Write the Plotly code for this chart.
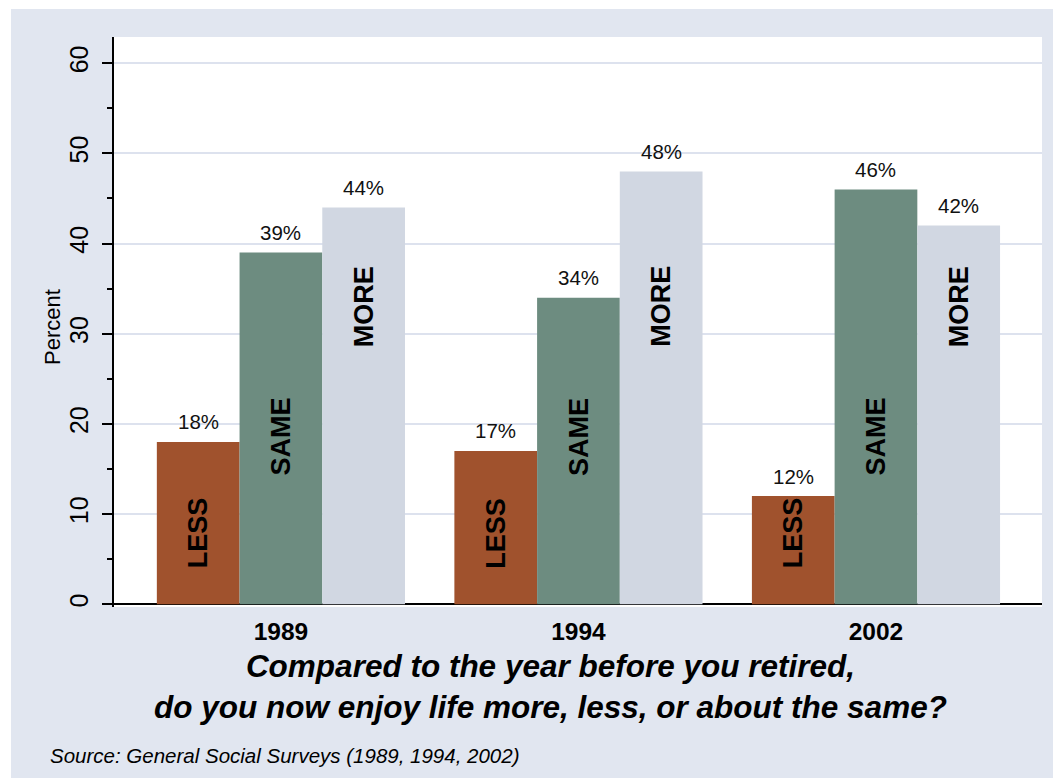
import plotly.graph_objects as go

# Survey data: share of retirees who enjoy life less / the same / more
years = ["1989", "1994", "2002"]
less_pct = [18, 17, 12]
same_pct = [39, 34, 46]
more_pct = [44, 48, 42]
answer_names = ["LESS", "SAME", "MORE"]
y_ticks = [0, 10, 20, 30, 40, 50, 60]

# Styling
FONT = "Liberation Sans, Arial, Helvetica, sans-serif"
BG = "#e1e6f0"
GRID = "#dde2ee"
COLORS = {"LESS": "#a0522d", "SAME": "#6d8c80", "MORE": "#d1d7e2"}
INSIDE_LABEL_Y = {"LESS": 7.9, "SAME": 18.6, "MORE": 33.0}  # where the bold names sit

W, H = 1053, 778
M_L, M_R, M_T, M_B = 114, 11, 37, 171
PLOT_W = W - M_L - M_R
PLOT_H = H - M_T - M_B

BARGAP = 0.166
n_series = len(answer_names)
bar_w = (1 - BARGAP) / n_series


def px_x(p):
    return (p - M_L) / PLOT_W


def px_y(p):
    return (H - M_B - p) / PLOT_H


series = {"LESS": less_pct, "SAME": same_pct, "MORE": more_pct}

fig = go.Figure()
for name in answer_names:
    fig.add_trace(go.Bar(
        x=years, y=series[name], name=name,
        marker=dict(color=COLORS[name], line=dict(width=0)),
        showlegend=False, hoverinfo="skip",
    ))

annotations = []
for si, name in enumerate(answer_names):
    offset = (si - (n_series - 1) / 2) * bar_w
    for gi, val in enumerate(series[name]):
        xpos = gi + offset
        # value label above each bar
        annotations.append(dict(
            x=xpos, y=val, xref="x", yref="y", text=f"{val}%",
            showarrow=False, yanchor="middle", yshift=20,
            font=dict(family=FONT, size=20.5, color="#111111"),
        ))
        # rotated answer name inside each bar
        annotations.append(dict(
            x=xpos, y=INSIDE_LABEL_Y[name], xref="x", yref="y",
            text=f"<b>{name}</b>", textangle=-90, showarrow=False,
            xanchor="center", yanchor="middle",
            font=dict(family=FONT, size=27, color="#000000"),
        ))

annotations += [
    dict(x=px_x(52), y=px_y(327), xref="paper", yref="paper", text="Percent",
         textangle=-90, showarrow=False, xanchor="center", yanchor="middle",
         font=dict(family=FONT, size=22, color="#000000")),
    dict(x=px_x(550), y=px_y(686), xref="paper", yref="paper",
         text="<b><i>Compared to the year before you retired,<br>"
              "do you now enjoy life more, less, or about the same?</i></b>",
         showarrow=False, xanchor="center", yanchor="middle", align="center",
         font=dict(family=FONT, size=31.5, color="#000000")),
    dict(x=px_x(48), y=px_y(755), xref="paper", yref="paper",
         text="<i>Source: General Social Surveys (1989, 1994, 2002)</i>",
         showarrow=False, xanchor="left", yanchor="middle",
         font=dict(family=FONT, size=20.5, color="#000000")),
]

shapes = [
    # thin white border at the top and left of the page
    dict(type="rect", xref="paper", yref="paper", layer="below",
         x0=px_x(0), x1=px_x(W), y0=px_y(9), y1=px_y(0),
         fillcolor="white", line=dict(width=0)),
    dict(type="rect", xref="paper", yref="paper", layer="below",
         x0=px_x(0), x1=px_x(11), y0=px_y(H), y1=px_y(0),
         fillcolor="white", line=dict(width=0)),
]

fig.update_layout(
    width=W, height=H,
    margin=dict(l=M_L, r=M_R, t=M_T, b=M_B, pad=0),
    paper_bgcolor=BG, plot_bgcolor="white",
    barmode="group", bargap=BARGAP, bargroupgap=0,
    font=dict(family=FONT, color="#000000"),
    annotations=annotations, shapes=shapes,
    xaxis=dict(
        type="category", range=[-0.561, 2.558],
        showgrid=False, showline=False, ticks="",
        tickfont=dict(family=FONT, size=24.5, weight="bold", color="#000000"),
        ticklabelstandoff=7,
    ),
    yaxis=dict(
        range=[-0.3, 62.9], tickvals=y_ticks, tickangle=-90,
        showgrid=True, gridcolor=GRID, gridwidth=2,
        zeroline=True, zerolinecolor="#000000", zerolinewidth=1.5,
        showline=True, linecolor="#000000", linewidth=1.5,
        ticks="outside", ticklen=10, tickwidth=1.5, tickcolor="#000000",
        minor=dict(dtick=5, ticks="outside", ticklen=5, tickwidth=1.5,
                   tickcolor="#000000", showgrid=False),
        tickfont=dict(family=FONT, size=25, color="#000000"),
        ticklabelstandoff=4,
    ),
)

fig.write_html("out.html")
